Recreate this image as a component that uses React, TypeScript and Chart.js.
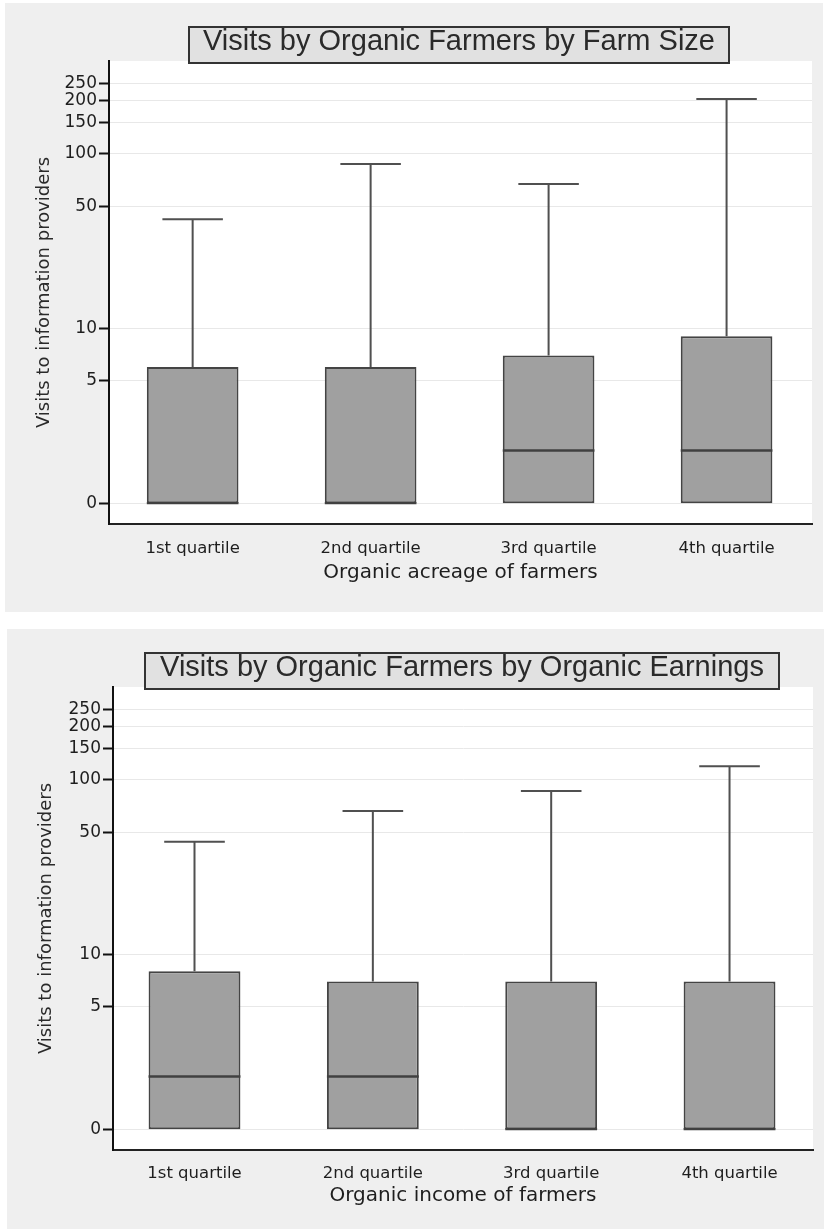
import React, { useEffect, useRef } from "react";
import { Chart, registerables } from "chart.js";

Chart.register(...registerables);

// ---- data ----
const categories = ["1st quartile", "2nd quartile", "3rd quartile", "4th quartile"];
const yTickValues = [0, 5, 10, 50, 100, 150, 200, 250];
const yTickLabels = ["0", "5", "10", "50", "100", "150", "200", "250"];

// Panel 1: by farm size
const sizeLower = [0, 0, 0, 0];
const sizeQ1 = [0, 0, 0, 0];
const sizeMedian = [0, 0, 2, 2];
const sizeQ3 = [6, 6, 7, 9];
const sizeUpper = [42, 87, 67, 205];

// Panel 2: by organic earnings
const earnLower = [0, 0, 0, 0];
const earnQ1 = [0, 0, 0, 0];
const earnMedian = [2, 2, 0, 0];
const earnQ3 = [8, 7, 7, 7];
const earnUpper = [44, 66, 86, 119];

// zero visits are drawn at 1 on the logarithmic axis (as in the original)
const toAxis = (v: number) => Math.max(v, 1);

const AXIS_FONT = "'DejaVu Sans', sans-serif";
const TITLE_FONT = "'Liberation Sans', Arial, sans-serif";

type Geo = {
  left: number; top: number; width: number; height: number;
  plotLeft: number; plotTop: number; plotRight: number; plotBottom: number;
  boxLeft: number; boxTop: number; boxRight: number; boxBottom: number;
  xTitlePad: number; xTickPad: number; xMin: number; xMax: number;
};

type PanelProps = {
  title: string;
  xTitle: string;
  lower: number[]; q1: number[]; median: number[]; q3: number[]; upper: number[];
  geo: Geo;
};

function Panel({ title, xTitle, lower, q1, median, q3, upper, geo }: PanelProps) {
  const ref = useRef<HTMLCanvasElement | null>(null);

  useEffect(() => {
    if (!ref.current) return;
    const boxPlugin = {
      id: "boxExtras",
      beforeDraw(chart: any) {
        const { ctx, chartArea: a } = chart;
        ctx.save();
        ctx.fillStyle = "#ffffff";
        ctx.fillRect(a.left, a.top, a.right - a.left, a.bottom - a.top);
        ctx.restore();
      },
      afterDatasetsDraw(chart: any) {
        const { ctx } = chart;
        const xs = chart.scales.x;
        const ys = chart.scales.y;
        const meta = chart.getDatasetMeta(0);
        ctx.save();
        categories.forEach((_, i) => {
          const bar = meta.data[i] as any;
          const w = bar.width;
          const cx = xs.getPixelForValue(i + 1);
          const yQ3 = ys.getPixelForValue(toAxis(q3[i]));
          const yQ1 = ys.getPixelForValue(toAxis(q1[i]));
          const yUp = ys.getPixelForValue(toAxis(upper[i]));
          const yLo = ys.getPixelForValue(toAxis(lower[i]));
          const yMed = ys.getPixelForValue(toAxis(median[i]));
          ctx.strokeStyle = "#505050";
          ctx.lineWidth = 2;
          const capHalf = w * 0.33;
          // upper whisker
          ctx.beginPath();
          ctx.moveTo(cx, yQ3);
          ctx.lineTo(cx, yUp);
          ctx.moveTo(cx - capHalf, yUp);
          ctx.lineTo(cx + capHalf, yUp);
          ctx.stroke();
          // lower whisker
          if (lower[i] < q1[i]) {
            ctx.beginPath();
            ctx.moveTo(cx, yQ1);
            ctx.lineTo(cx, yLo);
            ctx.moveTo(cx - capHalf, yLo);
            ctx.lineTo(cx + capHalf, yLo);
            ctx.stroke();
          }
          // median
          ctx.strokeStyle = "#404040";
          ctx.lineWidth = 2.4;
          ctx.beginPath();
          ctx.moveTo(cx - w / 2, yMed);
          ctx.lineTo(cx + w / 2, yMed);
          ctx.stroke();
        });
        ctx.restore();
      },
    };

    const chart = new Chart(ref.current, {
      type: "bar",
      data: {
        datasets: [
          {
            data: categories.map((_, i) => ({ x: i + 1, y: [toAxis(q1[i]), toAxis(q3[i])] })) as any,
            backgroundColor: "#a0a0a0",
            borderColor: "#444444",
            borderWidth: 2,
            borderSkipped: false,
            barPercentage: 0.515,
            categoryPercentage: 1,
          },
        ],
      },
      options: {
        animation: false,
        responsive: false,
        devicePixelRatio: 1,
        events: [],
        layout: {
          padding: {
            left: 0,
            top: geo.plotTop - geo.top,
            right: geo.left + geo.width - geo.plotRight,
            bottom: 0,
          },
        },
        plugins: {
          legend: { display: false },
          tooltip: { enabled: false },
          title: { display: false },
        },
        scales: {
          x: {
            type: "linear",
            min: geo.xMin,
            max: geo.xMax,
            bounds: "data",
            offset: false,
            afterBuildTicks: (s: any) => {
              s.ticks = categories.map((_, i) => ({ value: i + 1 }));
            },
            afterFit: (s: any) => {
              s.height = geo.top + geo.height - geo.plotBottom;
            },
            ticks: {
              callback: (_v: any, i: number) => categories[i],
              font: { family: AXIS_FONT, size: 16.5 },
              color: "#1e1e1e",
              padding: geo.xTickPad,
              maxRotation: 0,
              autoSkip: false,
            },
            grid: { display: false, drawTicks: false, offset: false },
            border: { display: true, color: "#222222", width: 2 },
            title: {
              display: true,
              text: xTitle,
              font: { family: AXIS_FONT, size: 20 },
              color: "#1e1e1e",
              padding: { top: 0, bottom: geo.xTitlePad },
            },
          },
          y: {
            type: "logarithmic",
            min: 0.76,
            max: 338,
            bounds: "data",
            afterBuildTicks: (s: any) => {
              s.ticks = yTickValues.map((v) => ({ value: toAxis(v) }));
            },
            afterFit: (s: any) => {
              s.width = geo.plotLeft - geo.left;
            },
            ticks: {
              callback: (_v: any, i: number) => yTickLabels[i],
              font: { family: AXIS_FONT, size: 17 },
              color: "#1e1e1e",
              padding: 2,
              autoSkip: false,
            },
            grid: {
              color: "#e8e8e8",
              lineWidth: 1,
              tickColor: "#111111",
              tickLength: 10,
              tickWidth: 2,
              drawTicks: true,
            },
            border: { display: true, color: "#111111", width: 2 },
            title: {
              display: true,
              text: "Visits to information providers",
              font: { family: AXIS_FONT, size: 18 },
              color: "#2a2a2a",
              padding: { top: 29, bottom: 0 },
            },
          },
        },
      } as any,
      plugins: [boxPlugin as any],
    });
    return () => chart.destroy();
  }, []);

  return (
    <div
      style={{
        position: "absolute",
        left: geo.left,
        top: geo.top,
        width: geo.width,
        height: geo.height,
        background: "#efefef",
      }}
    >
      <canvas ref={ref} width={geo.width} height={geo.height} style={{ display: "block" }} />
      <div
        style={{
          position: "absolute",
          left: geo.boxLeft - geo.left,
          top: geo.boxTop - geo.top,
          width: geo.boxRight - geo.boxLeft,
          height: geo.boxBottom - geo.boxTop,
          boxSizing: "border-box",
          border: "2px solid #333333",
          background: "#e1e1e1",
          fontFamily: TITLE_FONT,
          fontSize: 29,
          lineHeight: "24px",
          color: "#2a2a2a",
          textAlign: "center",
          whiteSpace: "nowrap",
        }}
      >
        {title}
      </div>
    </div>
  );
}

const geoTop: Geo = {
  left: 5, top: 3, width: 818, height: 609,
  plotLeft: 109, plotTop: 61, plotRight: 812, plotBottom: 524,
  boxLeft: 188, boxTop: 26, boxRight: 730, boxBottom: 64,
  xTitlePad: 27, xTickPad: 15, xMin: 0.53, xMax: 4.48,
};

const geoBottom: Geo = {
  left: 7, top: 629, width: 817, height: 600,
  plotLeft: 113, plotTop: 687, plotRight: 813, plotBottom: 1150,
  boxLeft: 144, boxTop: 652, boxRight: 780, boxBottom: 690,
  xTitlePad: 21, xTickPad: 14, xMin: 0.543, xMax: 4.468,
};

export default function App() {
  return (
    <div style={{ position: "absolute", left: 0, top: 0, width: 824, height: 1229, background: "#ffffff", overflow: "hidden" }}>
      <Panel
        title="Visits by Organic Farmers by Farm Size"
        xTitle="Organic acreage of farmers"
        lower={sizeLower}
        q1={sizeQ1}
        median={sizeMedian}
        q3={sizeQ3}
        upper={sizeUpper}
        geo={geoTop}
      />
      <Panel
        title="Visits by Organic Farmers by Organic Earnings"
        xTitle="Organic income of farmers"
        lower={earnLower}
        q1={earnQ1}
        median={earnMedian}
        q3={earnQ3}
        upper={earnUpper}
        geo={geoBottom}
      />
    </div>
  );
}
